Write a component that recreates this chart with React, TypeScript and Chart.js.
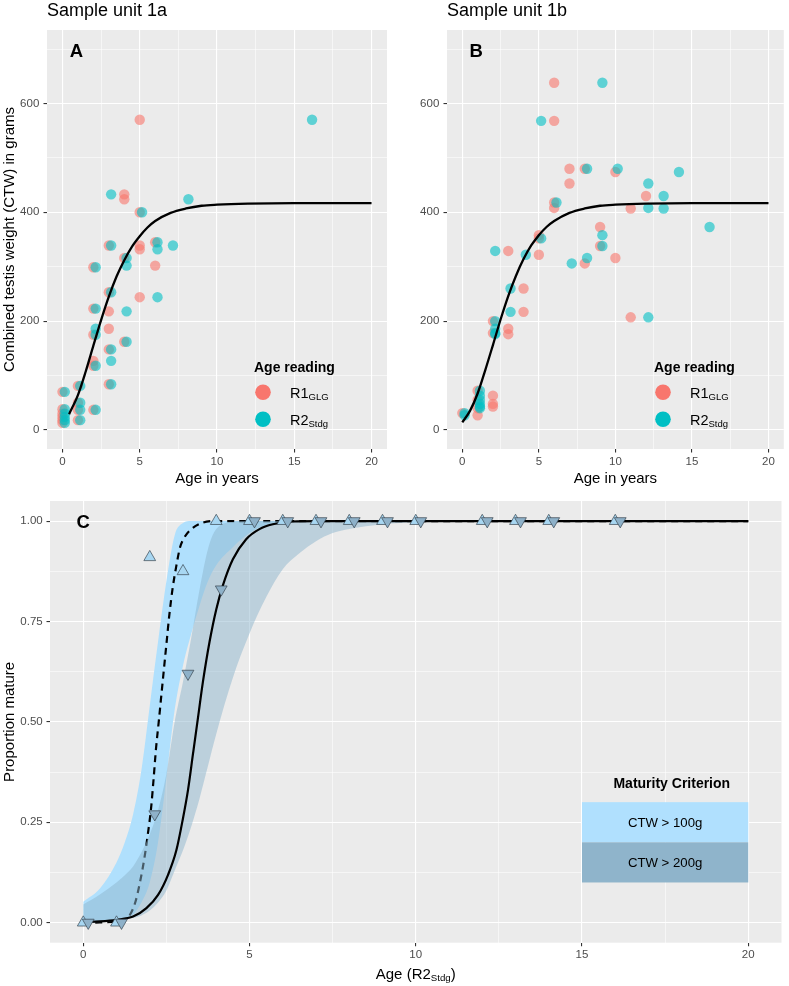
import { useEffect, useRef } from 'react';
import { Chart, registerables } from 'chart.js';

Chart.register(...registerables);

// ---------- Panel A: sample unit 1a (one entry per animal) ----------
const ctwA = [70, 38, 30, 24, 18, 13, 81, 50, 37, 18, 299, 223, 175, 118, 37, 127, 339, 253, 148, 84, 218, 186, 316, 162, 433, 424, 400, 570, 339, 332, 244, 345, 302];
const ageR1A = [0, 0, 0, 0, 0, 0, 1, 1, 1, 1, 2, 2, 2, 2, 2, 2, 3, 3, 3, 3, 3, 3, 4, 4, 4, 4, 5, 5, 5, 5, 5, 6, 6];
const ageR2A = [0, 0, 0, 0, 0, 0, 1, 1, 1, 1, 2, 2, 2, 2, 2, 3, 3, 3, 3, 3, 4, 2, 4, 4, 3, 8, 5, 16, 7, 6, 6, 6, 4];
const fitAgeA = [0.43, 1, 1.5, 2, 2.5, 3, 3.5, 4, 4.5, 5, 5.5, 6, 7, 8, 9, 10, 12, 15, 20];
const fitCtwA = [29, 64, 107, 155, 202, 245, 282, 312, 337, 356, 372, 384, 399, 407, 412, 414, 416, 417, 417];

// ---------- Panel B: sample unit 1b ----------
const ctwB = [638, 568, 480, 480, 474, 453, 430, 418, 408, 407, 373, 358, 352, 338, 329, 322, 316, 306, 260, 217, 207, 200, 186, 178, 176, 72, 63, 48, 43, 55, 40, 27, 31];
const ageR1B = [6, 6, 8, 7, 10, 7, 12, 6, 6, 11, 9, 5, 5, 9, 3, 5, 10, 8, 4, 4, 11, 2, 3, 2, 3, 1, 2, 2, 2, 1, 1, 1, 0];
const ageR2B = [9, 5, 8, 10, 14, 12, 13, 6, 12, 13, 16, 9, 5, 9, 2, 4, 8, 7, 3, 3, 12, 2, 2, 2, 2, 1, 1, 1, 1, 1, 1, 0, 0];
const fitAgeB = [0, 0.5, 1, 1.5, 2, 2.5, 3, 3.5, 4, 4.5, 5, 5.5, 6, 7, 8, 9, 10, 12, 15, 20];
const fitCtwB = [14, 35, 67, 110, 156, 203, 246, 283, 314, 339, 358, 373, 384, 399, 407, 412, 414, 416, 417, 417];

// ---------- Panel C: proportion mature by age (R2 reading) ----------
const matAge = [0, 1, 2, 3, 4, 5, 6, 7, 8, 9, 10, 12, 13, 14, 16];
const matProp100 = [0, 0, 0.91, 0.875, 1, 1, 1, 1, 1, 1, 1, 1, 1, 1, 1];
const matProp200 = [0, 0, 0.27, 0.62, 0.83, 1, 1, 1, 1, 1, 1, 1, 1, 1, 1];

const fit100Age = [0, 0.5, 1.0, 1.2, 1.4, 1.57, 1.71, 1.84, 1.94, 2.04, 2.11, 2.19, 2.27, 2.39, 2.49, 2.59, 2.69, 2.79, 2.91, 3.04, 3.24, 3.59, 3.98, 5, 10, 20];
const fit100Prop = [0, 0.0005, 0.003, 0.007, 0.019, 0.052, 0.102, 0.161, 0.219, 0.285, 0.352, 0.435, 0.5, 0.601, 0.684, 0.767, 0.834, 0.884, 0.934, 0.959, 0.979, 0.996, 1, 1, 1, 1];
const fit200Age = [0, 0.5, 1.0, 1.5, 1.9, 2.25, 2.55, 2.8, 3.0, 3.15, 3.3, 3.45, 3.6, 3.8, 4.0, 4.2, 4.5, 4.9, 5.3, 5.7, 6.3, 7, 8, 10, 20];
const fit200Prop = [0.001, 0.003, 0.007, 0.015, 0.036, 0.069, 0.119, 0.18, 0.26, 0.33, 0.42, 0.51, 0.6, 0.7, 0.78, 0.84, 0.905, 0.955, 0.98, 0.992, 0.999, 1, 1, 1, 1];

const bandAge = [0, 0.5, 1, 1.25, 1.5, 1.75, 2, 2.25, 2.5, 2.75, 3, 3.25, 3.5, 3.75, 4, 4.5, 5, 5.5, 6, 6.5, 7, 7.5, 8, 9, 10, 12, 15, 20];
const band100Hi = [0.052, 0.085, 0.15, 0.2, 0.27, 0.38, 0.54, 0.7, 0.85, 0.965, 0.995, 1, 1, 1, 1, 1, 1, 1, 1, 1, 1, 1, 1, 1, 1, 1, 1, 1];
const band100Lo = [0, 0.001, 0.004, 0.01, 0.02, 0.05, 0.1, 0.2, 0.36, 0.53, 0.64, 0.72, 0.79, 0.85, 0.89, 0.935, 0.97, 0.99, 0.997, 1, 1, 1, 1, 1, 1, 1, 1, 1];
const band200Hi = [0.045, 0.07, 0.1, 0.118, 0.14, 0.175, 0.22, 0.28, 0.37, 0.5, 0.6, 0.71, 0.83, 0.93, 0.98, 0.998, 1, 1, 1, 1, 1, 1, 1, 1, 1, 1, 1, 1];
const band200Lo = [0, 0.001, 0.005, 0.008, 0.012, 0.018, 0.03, 0.05, 0.08, 0.13, 0.18, 0.24, 0.31, 0.39, 0.47, 0.61, 0.72, 0.81, 0.88, 0.92, 0.95, 0.97, 0.98, 0.992, 0.997, 1, 1, 1];

// ---------- Axis ticks ----------
const ageMajor = [0, 5, 10, 15, 20];
const ageMinor = [2.5, 7.5, 12.5, 17.5];
const ctwMajor = [0, 200, 400, 600];
const ctwMinor = [100, 300, 500, 700];
const propMajor = [0, 0.25, 0.5, 0.75, 1];
const propMinor = [0.125, 0.375, 0.625, 0.875];

// ---------- Text ----------
const titleA = 'Sample unit 1a';
const titleB = 'Sample unit 1b';
const legendTitleAge = 'Age reading';
const readingLabels = [['R1', 'GLG'], ['R2', 'Stdg']];
const criterionTitle = 'Maturity Criterion';
const criterionLabels = ['CTW > 100g', 'CTW > 200g'];

const FONT = '"Liberation Sans", Arial, Helvetica, sans-serif';
const PANEL_BG = '#EBEBEB';
const TICK_TEXT = '#4D4D4D';
const R1_COLOR = '#F8766D';
const R2_COLOR = '#00BFC4';
const R1_FILL = 'rgba(248,118,109,0.6)';
const R2_FILL = 'rgba(0,191,196,0.6)';
const LIGHT_BAND = 'rgb(176,224,253)';
const GREY_BAND = 'rgba(141,181,205,0.5)';
const LIGHT_KEY = '#B0E0FE';
const GREY_KEY = '#8FB4CB';
const NUDGE = 0.15;

const fontStr = (size: number, bold = false) => `${bold ? 'bold ' : ''}${size}px ${FONT}`;

type Run = { text: string; size: number; bold?: boolean; dy?: number };

function drawRuns(ctx: CanvasRenderingContext2D, runs: Run[], x: number, y: number, align: 'left' | 'center' = 'left', color = '#000000') {
  ctx.save();
  ctx.fillStyle = color;
  ctx.textAlign = 'left';
  ctx.textBaseline = 'alphabetic';
  const widths = runs.map((r) => {
    ctx.font = fontStr(r.size, r.bold);
    return ctx.measureText(r.text).width;
  });
  const total = widths.reduce((a, b) => a + b, 0);
  let cx = align === 'center' ? x - total / 2 : x;
  runs.forEach((r, i) => {
    ctx.font = fontStr(r.size, r.bold);
    ctx.fillText(r.text, cx, y + (r.dy ?? 0));
    cx += widths[i];
  });
  ctx.restore();
}

function drawVertical(ctx: CanvasRenderingContext2D, text: string, x: number, y: number) {
  ctx.save();
  ctx.translate(x, y);
  ctx.rotate(-Math.PI / 2);
  drawRuns(ctx, [{ text, size: 15 }], 0, 0, 'center');
  ctx.restore();
}

function axisScale(axis: 'x' | 'y', min: number, max: number, major: number[], minor: number[], size: number, pad: number, fmt: (v: number) => string) {
  const isMajor = (v: number) => major.some((m) => Math.abs(m - v) < 1e-9);
  return {
    type: 'linear',
    position: axis === 'x' ? 'bottom' : 'left',
    min,
    max,
    afterBuildTicks: (s: any) => {
      s.ticks = [...major, ...minor].sort((a, b) => a - b).map((v) => ({ value: v }));
    },
    afterFit: (s: any) => {
      if (axis === 'x') s.height = size;
      else s.width = size;
    },
    border: { display: false },
    grid: {
      color: '#FFFFFF',
      lineWidth: (c: any) => (c.tick && isMajor(c.tick.value) ? 1.1 : 0.55),
      tickColor: (c: any) => (c.tick && isMajor(c.tick.value) ? '#333333' : 'rgba(0,0,0,0)'),
      tickLength: 3.5,
      tickWidth: 1.1,
      drawTicks: true,
    },
    ticks: {
      autoSkip: false,
      maxRotation: 0,
      minRotation: 0,
      padding: pad,
      color: TICK_TEXT,
      font: { family: FONT, size: 11.5 },
      callback: (v: any) => (isMajor(Number(v)) ? fmt(Number(v)) : ''),
    },
  };
}

const pts = (xs: number[], ys: number[], dx = 0) => xs.map((x, i) => ({ x: x + dx, y: ys[i] }));

const backgroundPlugin = {
  id: 'panelBackground',
  beforeDraw(chart: any) {
    const { ctx, chartArea } = chart;
    ctx.save();
    ctx.fillStyle = PANEL_BG;
    ctx.fillRect(chartArea.left, chartArea.top, chartArea.right - chartArea.left, chartArea.bottom - chartArea.top);
    ctx.restore();
  },
};

function growthChart(canvas: HTMLCanvasElement, opts: { title: string; letter: string; ctw: number[]; r1: number[]; r2: number[]; fitAge: number[]; fitCtw: number[]; padRight: number; yTitle: boolean }) {
  const decor = {
    id: 'growthDecor',
    afterDraw(chart: any) {
      const { ctx, chartArea } = chart;
      const { left, right, top, bottom } = chartArea;
      const xs = chart.scales.x;
      const ys = chart.scales.y;
      drawRuns(ctx, [{ text: opts.title, size: 18 }], left, 16);
      drawRuns(ctx, [{ text: opts.letter, size: 18.5, bold: true }], xs.getPixelForValue(0.9), ys.getPixelForValue(697) + 6.6, 'center');
      drawRuns(ctx, [{ text: 'Age in years', size: 15 }], (left + right) / 2, 483, 'center');
      if (opts.yTitle) drawVertical(ctx, 'Combined testis weight (CTW) in grams', 14, (top + bottom) / 2);
      // legend
      drawRuns(ctx, [{ text: legendTitleAge, size: 14, bold: true }], left + 207, top + 341.7);
      const keys = [R1_COLOR, R2_COLOR];
      readingLabels.forEach(([main, sub], i) => {
        const cy = top + 362.3 + i * 27;
        ctx.save();
        ctx.beginPath();
        ctx.arc(left + 216, cy, 7.8, 0, Math.PI * 2);
        ctx.fillStyle = keys[i];
        ctx.fill();
        ctx.restore();
        drawRuns(ctx, [{ text: main, size: 14.5 }, { text: sub, size: 9.5, dy: 2.3 }], left + 243, cy + 5.2);
      });
    },
  };
  return new Chart(canvas, {
    type: 'line',
    data: {
      datasets: [
        { label: 'fit', data: pts(opts.fitAge, opts.fitCtw), borderColor: '#000000', borderWidth: 2.3, pointRadius: 0, cubicInterpolationMode: 'monotone', fill: false, order: 0 },
        { label: 'R2', data: pts(opts.r2, opts.ctw, NUDGE), showLine: false, pointRadius: 5.2, pointBackgroundColor: R2_FILL, pointBorderWidth: 0, order: 1 },
        { label: 'R1', data: pts(opts.r1, opts.ctw), showLine: false, pointRadius: 5.2, pointBackgroundColor: R1_FILL, pointBorderWidth: 0, order: 2 },
      ],
    } as any,
    options: {
      responsive: false,
      animation: false,
      events: [],
      layout: { padding: { top: 30, right: opts.padRight, bottom: 0, left: 0 } },
      plugins: { legend: { display: false }, tooltip: { enabled: false }, title: { display: false } },
      scales: {
        x: axisScale('x', -1, 21, ageMajor, ageMinor, 41, 2.0, (v) => String(v)),
        y: axisScale('y', -35, 735, ctwMajor, ctwMinor, 47, 4.2, (v) => String(v)),
      },
    } as any,
    plugins: [backgroundPlugin, decor],
  });
}

function maturityChart(canvas: HTMLCanvasElement) {
  const decor = {
    id: 'maturityDecor',
    afterDraw(chart: any) {
      const { ctx, chartArea } = chart;
      const { left, right, top, bottom } = chartArea;
      const xs = chart.scales.x;
      const ys = chart.scales.y;
      drawRuns(ctx, [{ text: 'C', size: 18.5, bold: true }], xs.getPixelForValue(0), ys.getPixelForValue(1) + 6.6, 'center');
      drawVertical(ctx, 'Proportion mature', 14, (top + bottom) / 2);
      drawRuns(ctx, [{ text: 'Age (R2', size: 15 }, { text: 'Stdg', size: 9.7, dy: 2.3 }, { text: ')', size: 15 }], (left + right) / 2, 488.5, 'center');
      // criterion key
      const x0 = xs.getPixelForValue(15);
      const x1 = xs.getPixelForValue(20);
      const fills = [LIGHT_KEY, GREY_KEY];
      const spans = [[0.2, 0.3], [0.1, 0.2]];
      ctx.save();
      spans.forEach(([lo, hi], i) => {
        const yTop = ys.getPixelForValue(hi);
        const yBot = ys.getPixelForValue(lo);
        ctx.fillStyle = fills[i];
        ctx.fillRect(x0, yTop, x1 - x0, yBot - yTop);
      });
      ctx.restore();
      criterionLabels.forEach((t, i) => {
        const mid = (spans[i][0] + spans[i][1]) / 2;
        drawRuns(ctx, [{ text: t, size: 13.2 }], xs.getPixelForValue(17.5), ys.getPixelForValue(mid) + 4.7, 'center');
      });
      drawRuns(ctx, [{ text: criterionTitle, size: 14, bold: true }], xs.getPixelForValue(17.7), ys.getPixelForValue(0.3476) + 5, 'center');
    },
  };
  const edge = { pointRadius: 0, borderWidth: 0, borderColor: 'rgba(0,0,0,0)', cubicInterpolationMode: 'monotone' };
  const tri = { showLine: false, pointStyle: 'triangle', pointRadius: 6.8, pointBorderColor: '#3A4650', pointBorderWidth: 0.7 };
  return new Chart(canvas, {
    type: 'line',
    data: {
      datasets: [
        { label: 'CTW > 200g obs', data: pts(matAge, matProp200, NUDGE), ...tri, pointRotation: 180, pointBackgroundColor: '#8EB1C9', order: 1 },
        { label: 'CTW > 100g obs', data: pts(matAge, matProp100), ...tri, pointRotation: 0, pointBackgroundColor: '#A8D7F2', order: 2 },
        { label: 'CTW > 200g fit', data: pts(fit200Age, fit200Prop), borderColor: '#000000', borderWidth: 2.2, pointRadius: 0, cubicInterpolationMode: 'monotone', fill: false, order: 3 },
        { label: 'CTW > 200g hi', data: pts(bandAge, band200Hi), ...edge, fill: '+1', backgroundColor: GREY_BAND, order: 4 },
        { label: 'CTW > 200g lo', data: pts(bandAge, band200Lo), ...edge, fill: false, order: 4.5 },
        { label: 'CTW > 100g fit', data: pts(fit100Age, fit100Prop), borderColor: '#000000', borderWidth: 2.2, borderDash: [7, 5], pointRadius: 0, cubicInterpolationMode: 'monotone', fill: false, order: 5 },
        { label: 'CTW > 100g hi', data: pts(bandAge, band100Hi), ...edge, fill: '+1', backgroundColor: LIGHT_BAND, order: 6 },
        { label: 'CTW > 100g lo', data: pts(bandAge, band100Lo), ...edge, fill: false, order: 6.5 },
      ],
    } as any,
    options: {
      responsive: false,
      animation: false,
      events: [],
      layout: { padding: { top: 11, right: 2.3, bottom: 0, left: 0 } },
      plugins: { legend: { display: false }, tooltip: { enabled: false }, title: { display: false }, filler: { propagate: false } },
      scales: {
        x: axisScale('x', -1, 21, ageMajor, ageMinor, 43.3, 1.4, (v) => String(v)),
        y: axisScale('y', -0.05, 1.05, propMajor, propMinor, 50, 3.8, (v) => v.toFixed(2)),
      },
    } as any,
    plugins: [backgroundPlugin, decor],
  });
}

export default function App() {
  const refA = useRef<HTMLCanvasElement>(null);
  const refB = useRef<HTMLCanvasElement>(null);
  const refC = useRef<HTMLCanvasElement>(null);

  useEffect(() => {
    const charts = [
      growthChart(refA.current!, { title: titleA, letter: 'A', ctw: ctwA, r1: ageR1A, r2: ageR2A, fitAge: fitAgeA, fitCtw: fitCtwA, padRight: 13, yTitle: true }),
      growthChart(refB.current!, { title: titleB, letter: 'B', ctw: ctwB, r1: ageR1B, r2: ageR2B, fitAge: fitAgeB, fitCtw: fitCtwB, padRight: 2.3, yTitle: false }),
      maturityChart(refC.current!),
    ];
    return () => charts.forEach((c) => c.destroy());
  }, []);

  return (
    <div style={{ position: 'fixed', left: 0, top: 0, width: 789, height: 986, background: '#FFFFFF', overflow: 'hidden' }}>
      <canvas ref={refA} width={400} height={490} style={{ position: 'absolute', left: 0, top: 0, width: 400, height: 490 }} />
      <canvas ref={refB} width={389} height={490} style={{ position: 'absolute', left: 400, top: 0, width: 389, height: 490 }} />
      <canvas ref={refC} width={789} height={496} style={{ position: 'absolute', left: 0, top: 490, width: 789, height: 496 }} />
    </div>
  );
}
